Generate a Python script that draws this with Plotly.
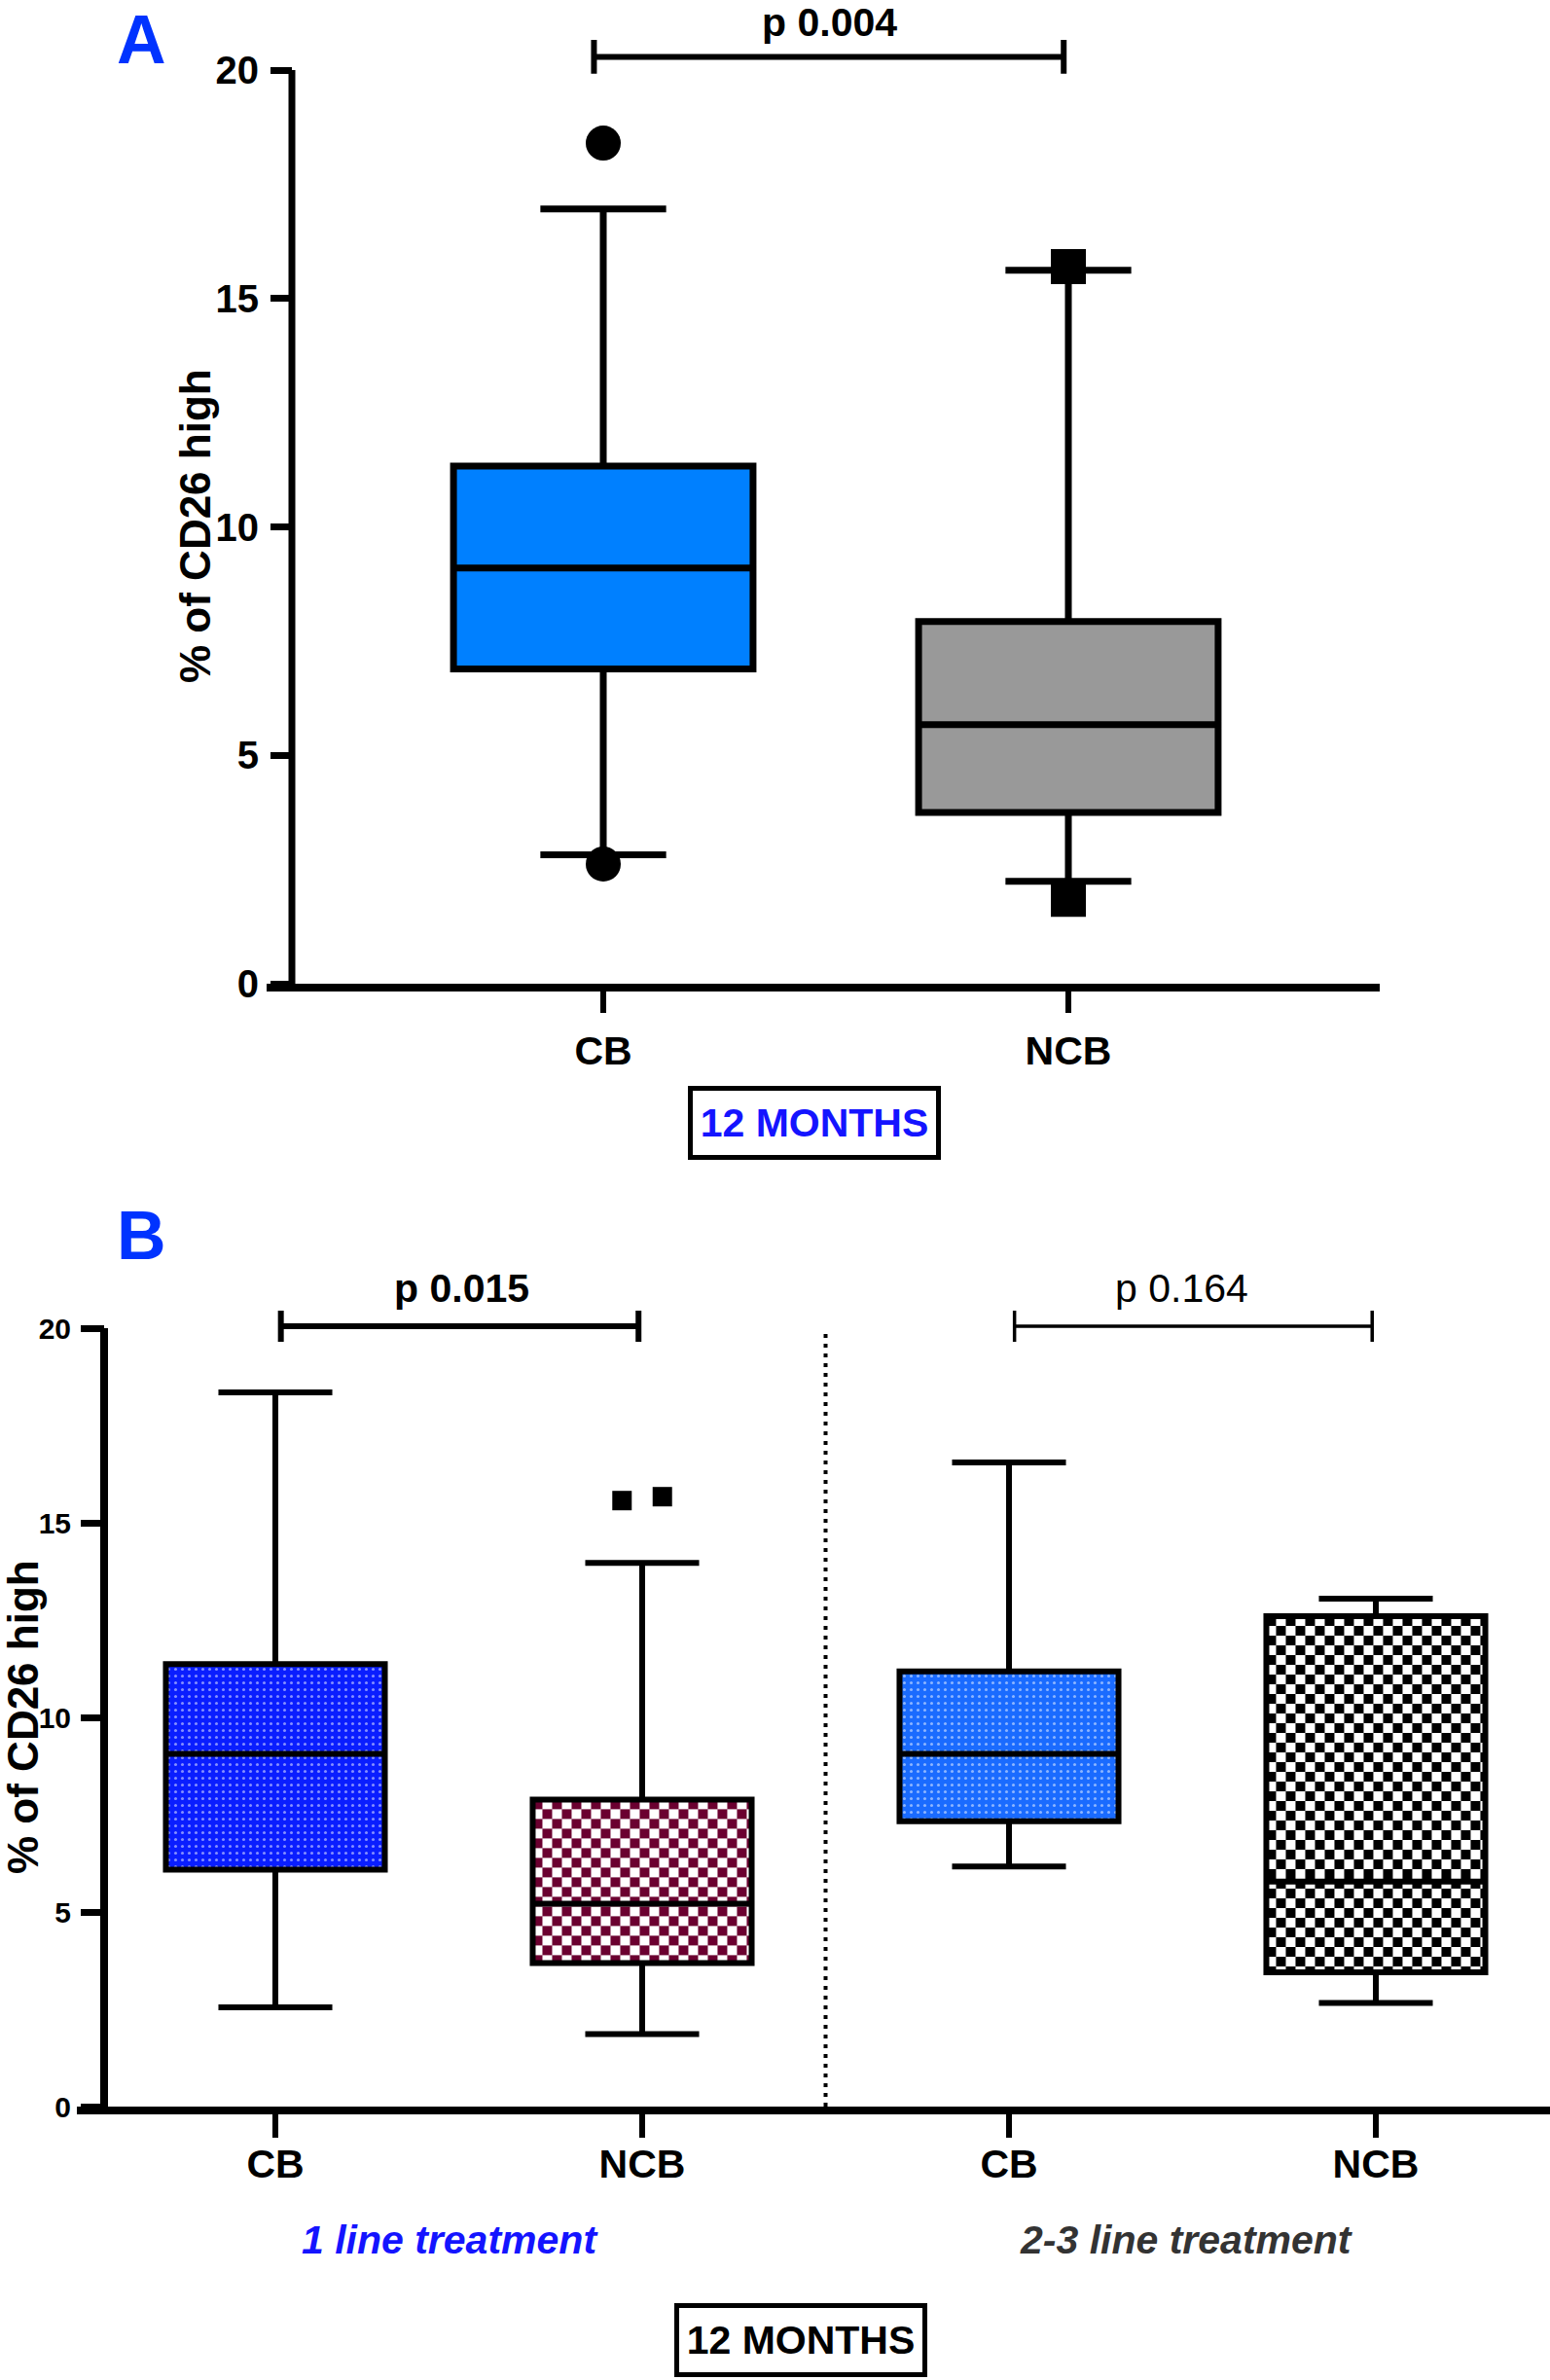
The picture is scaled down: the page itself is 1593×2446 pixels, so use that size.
import base64
import plotly.graph_objects as go

W, H = 1593, 2446

# ---------------- data ----------------
A_categories = ["CB", "NCB"]
A_q1 = [6.89, 3.75]
A_median = [9.10, 5.67]
A_q3 = [11.33, 7.93]
A_lower = [2.82, 2.24]
A_upper = [16.96, 15.62]
A_outliers_CB = [18.40, 2.62]
A_outliers_NCB = [15.70, 1.85]
A_pvalue = "p 0.004"

B_categories = ["CB", "NCB", "CB", "NCB"]
B_q1 = [6.09, 3.69, 7.33, 3.45]
B_median = [9.06, 5.21, 9.06, 5.78]
B_q3 = [11.37, 7.89, 11.18, 12.60]
B_lower = [2.55, 1.86, 6.17, 2.66]
B_upper = [18.35, 13.97, 16.55, 13.05]
B_outliers_NCB1 = [15.57, 15.67]
B_pvalues = ["p 0.015", "p 0.164"]
B_groups = ["1 line treatment", "2-3 line treatment"]
y_ticks = [0, 5, 10, 15, 20]
y_title = "% of CD26 high"
period_label = "12 MONTHS"

# ---------------- layout geometry (pixels) ----------------
A_X0, A_X1, A_CAT0, A_STEP, A_YAX = 274, 1418, 620, 478, 300
A_Y0, A_PYU, A_YTOP = 1011, 46.95, 20.8
B_X0, B_X1, B_CAT0, B_STEP, B_YAX = 79, 1593, 283, 377, 107
B_Y0, B_PYU, B_YTOP = 2165, 40.0, 20.6

def xdata(px, cat0, step):
    return (px - cat0) / step

A_xrange = [xdata(A_X0, A_CAT0, A_STEP), xdata(A_X1, A_CAT0, A_STEP)]
B_xrange = [xdata(B_X0, B_CAT0, B_STEP), xdata(B_X1, B_CAT0, B_STEP)]
A_ydom = [1 - A_Y0 / H, 1 - (A_Y0 - A_YTOP * A_PYU) / H]
B_ydom = [1 - B_Y0 / H, 1 - (B_Y0 - B_YTOP * B_PYU) / H]

FONT = "Liberation Sans, Arial, Helvetica, sans-serif"
A_colors = ["#0080ff", "#999999"]
B_dot_colors = {0: "#0a1eff", 2: "#1a6bff"}
B_check_colors = {1: "#6b0030", 3: "#000000"}
A_BOXW, B_BOXW = 0.644, 0.597

fig = go.Figure()

# ---------- Panel A ----------
for i in range(len(A_categories)):
    fig.add_trace(go.Box(
        x=[i], q1=[A_q1[i]], median=[A_median[i]], q3=[A_q3[i]],
        lowerfence=[A_lower[i]], upperfence=[A_upper[i]],
        width=A_BOXW, whiskerwidth=0.42, fillcolor=A_colors[i],
        line=dict(color="black", width=7), boxpoints=False,
        xaxis="x", yaxis="y", showlegend=False, hoverinfo="skip"))
fig.add_trace(go.Scatter(x=[0] * len(A_outliers_CB), y=A_outliers_CB, mode="markers",
                         marker=dict(symbol="circle", size=36, color="black"),
                         xaxis="x", yaxis="y", showlegend=False, hoverinfo="skip"))
fig.add_trace(go.Scatter(x=[1] * len(A_outliers_NCB), y=A_outliers_NCB, mode="markers",
                         marker=dict(symbol="square", size=36, color="black"),
                         xaxis="x", yaxis="y", showlegend=False, hoverinfo="skip"))

# ---------- Panel B ----------
for i, col in B_dot_colors.items():
    fig.add_trace(go.Bar(
        x=[i], y=[B_q3[i] - B_q1[i]], base=[B_q1[i]], width=[B_BOXW],
        marker=dict(color=col, line=dict(width=0),
                    pattern=dict(shape=".", fgcolor="white", bgcolor=col,
                                 size=7, solidity=0.15)),
        xaxis="x2", yaxis="y2", showlegend=False, hoverinfo="skip"))

B_PXU = B_STEP

def checker_uri(w, h, color, cell=10):
    svg = (f'<svg xmlns="http://www.w3.org/2000/svg" width="{w:.1f}" height="{h:.1f}" '
           f'viewBox="0 0 {w:.1f} {h:.1f}" preserveAspectRatio="none"><defs>'
           f'<pattern id="c" width="{2*cell}" height="{2*cell}" patternUnits="userSpaceOnUse">'
           f'<rect width="{2*cell}" height="{2*cell}" fill="white"/>'
           f'<rect width="{cell}" height="{cell}" fill="{color}"/>'
           f'<rect x="{cell}" y="{cell}" width="{cell}" height="{cell}" fill="{color}"/>'
           f'</pattern></defs><rect width="100%" height="100%" fill="url(#c)"/></svg>')
    return "data:image/svg+xml;base64," + base64.b64encode(svg.encode()).decode()

images = []
for i, col in B_check_colors.items():
    wpx = B_BOXW * B_PXU
    hpx = (B_q3[i] - B_q1[i]) * B_PYU
    images.append(dict(source=checker_uri(wpx, hpx, col), xref="x2", yref="y2",
                       x=i - B_BOXW / 2, y=B_q3[i], sizex=B_BOXW, sizey=B_q3[i] - B_q1[i],
                       xanchor="left", yanchor="top", sizing="stretch", layer="below"))

for i in range(len(B_categories)):
    fig.add_trace(go.Box(
        x=[i], q1=[B_q1[i]], median=[B_median[i]], q3=[B_q3[i]],
        lowerfence=[B_lower[i]], upperfence=[B_upper[i]],
        width=B_BOXW, whiskerwidth=0.52, fillcolor="rgba(0,0,0,0)",
        line=dict(color="black", width=6), boxpoints=False,
        xaxis="x2", yaxis="y2", showlegend=False, hoverinfo="skip"))
B_jitter = [-0.055, 0.055]
fig.add_trace(go.Scatter(x=[1 + j for j in B_jitter], y=B_outliers_NCB1, mode="markers",
                         marker=dict(symbol="square", size=20, color="black"),
                         xaxis="x2", yaxis="y2", showlegend=False, hoverinfo="skip"))

# ---------- shapes ----------
shapes = []
shapes.append(dict(type="line", xref="x", yref="y", x0=xdata(A_YAX, A_CAT0, A_STEP),
                   x1=xdata(A_YAX, A_CAT0, A_STEP), y0=0, y1=y_ticks[-1],
                   line=dict(color="black", width=7)))
shapes.append(dict(type="line", xref="x2", yref="y2", x0=xdata(B_YAX, B_CAT0, B_STEP),
                   x1=xdata(B_YAX, B_CAT0, B_STEP), y0=0, y1=y_ticks[-1],
                   line=dict(color="black", width=8)))
shapes.append(dict(type="line", xref="x2", yref="y2", x0=1.5, x1=1.5, y0=0, y1=y_ticks[-1],
                   line=dict(color="black", width=4, dash="4px,6px")))

def bracket(xr, yr, xa, xb, yb, half, width):
    out = [dict(type="line", xref=xr, yref=yr, x0=xa, x1=xb, y0=yb, y1=yb,
                line=dict(color="black", width=width))]
    for xx in (xa, xb):
        out.append(dict(type="line", xref=xr, yref=yr, x0=xx, x1=xx, y0=yb - half, y1=yb + half,
                        line=dict(color="black", width=width)))
    return out

A_BR = 20.29
B_BR = 20.05
shapes += bracket("x", "y", -0.02, 0.99, A_BR, 0.37, 6)
shapes += bracket("x2", "y2", 0.015, 0.99, B_BR, 0.4, 6)
shapes += bracket("x2", "y2", 2.015, 2.99, B_BR, 0.4, 3.5)

# ---------- annotations ----------
LETTER_FONT = dict(family=FONT, size=70, weight="bold", color="#0033ff")
ann = []
ann.append(dict(text="A", xref="paper", yref="paper", x=145 / W, y=1,
                showarrow=False, xanchor="center", yanchor="top", yshift=0,
                font=LETTER_FONT))
ann.append(dict(text="B", xref="paper", yref="paper", x=145 / W, y=1 - 1270 / H,
                showarrow=False, xanchor="center", yanchor="middle",
                font=LETTER_FONT))
for xp, yp in [(200, 541), (23, 1765)]:
    ann.append(dict(text=y_title, xref="paper", yref="paper", x=xp / W, y=1 - yp / H,
                    textangle=-90, showarrow=False, xanchor="center", yanchor="middle",
                    font=dict(family=FONT, size=44, weight="bold", color="black")))
ann.append(dict(text=A_pvalue, xref="x", yref="y", x=0.487, y=A_BR, yshift=10,
                showarrow=False, xanchor="center", yanchor="bottom",
                font=dict(family=FONT, size=41, weight="bold", color="black")))
ann.append(dict(text=B_pvalues[0], xref="x2", yref="y2", x=0.507, y=B_BR, yshift=14,
                showarrow=False, xanchor="center", yanchor="bottom",
                font=dict(family=FONT, size=41, weight="bold", color="black")))
ann.append(dict(text=B_pvalues[1], xref="x2", yref="y2", x=2.472, y=B_BR, yshift=14,
                showarrow=False, xanchor="center", yanchor="bottom",
                font=dict(family=FONT, size=41, weight="normal", color="black")))
ann.append(dict(text=B_groups[0], xref="x2", yref="paper", x=0.476, y=1 - 2302 / H,
                showarrow=False, xanchor="center", yanchor="middle",
                font=dict(family=FONT, size=41, weight="bold", style="italic", color="#1414ff")))
ann.append(dict(text=B_groups[1], xref="x2", yref="paper", x=2.483, y=1 - 2302 / H,
                showarrow=False, xanchor="center", yanchor="middle",
                font=dict(family=FONT, size=41, weight="bold", style="italic", color="#333333")))
for xp, yp, col in [(837, 1154, "#1414ff"), (823, 2405, "black")]:
    ann.append(dict(text=period_label, xref="paper", yref="paper", x=xp / W, y=1 - yp / H,
                    showarrow=False, xanchor="center", yanchor="middle",
                    width=244, height=60, borderpad=3, borderwidth=5, bordercolor="black",
                    bgcolor="white",
                    font=dict(family=FONT, size=41, weight="bold", color=col)))

axis_common = dict(showgrid=False, zeroline=False, ticks="outside", tickcolor="black")

fig.update_layout(
    width=W, height=H, paper_bgcolor="white", plot_bgcolor="rgba(0,0,0,0)",
    margin=dict(l=0, r=0, t=0, b=0, autoexpand=False),
    barmode="overlay", boxmode="overlay", hovermode=False,
    xaxis=dict(domain=[A_X0 / W, A_X1 / W], range=A_xrange, anchor="y",
               showline=True, linewidth=8, linecolor="black",
               tickvals=list(range(len(A_categories))), ticktext=A_categories,
               ticklen=22, tickwidth=6, ticklabelstandoff=4,
               tickfont=dict(family=FONT, size=41, weight="bold", color="black"), **axis_common),
    yaxis=dict(domain=A_ydom, range=[0, A_YTOP], anchor="free", position=A_YAX / W,
               showline=False, tickvals=y_ticks, ticklen=22, tickwidth=7, ticklabelstandoff=4,
               tickfont=dict(family=FONT, size=40, weight="bold", color="black"), **axis_common),
    xaxis2=dict(domain=[B_X0 / W, B_X1 / W], range=B_xrange, anchor="y2",
                showline=True, linewidth=8, linecolor="black",
                tickvals=list(range(len(B_categories))), ticktext=B_categories,
                ticklen=24, tickwidth=6, ticklabelstandoff=-8,
                tickfont=dict(family=FONT, size=41, weight="bold", color="black"), **axis_common),
    yaxis2=dict(domain=B_ydom, range=[0, B_YTOP], anchor="free", position=B_YAX / W,
                showline=False, tickvals=y_ticks, ticklen=24, tickwidth=7, ticklabelstandoff=4,
                tickfont=dict(family=FONT, size=30, weight="bold", color="black"), **axis_common),
    shapes=shapes, annotations=ann, images=images,
)

fig.write_html("out.html", config={"displayModeBar": False, "staticPlot": True},
               post_script="document.body.style.margin='0px';")
